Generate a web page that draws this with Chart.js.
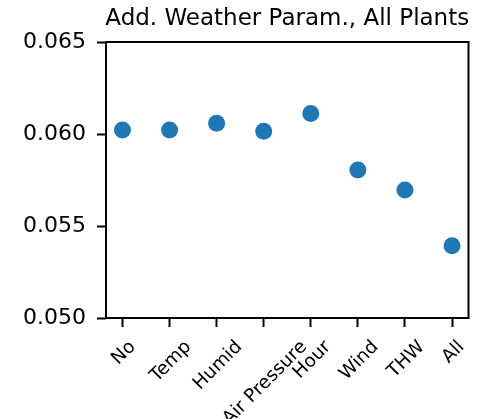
<!DOCTYPE html>
<html>
<head>
<meta charset="utf-8">
<script src="https://cdn.jsdelivr.net/npm/chart.js@4/dist/chart.umd.min.js"></script>
<style>
  html, body { margin: 0; padding: 0; background: #fff; }
  #wrap { width: 477px; height: 419px; position: relative; }
</style>
</head>
<body>
<div id="wrap"><canvas id="c"></canvas></div>
<script>
const categories = ["No", "Temp", "Humid", "Air Pressure", "Hour", "Wind", "THW", "All"];
const values = [0.06022, 0.06022, 0.06058, 0.06015, 0.06112, 0.05804, 0.05696, 0.05393];
const yTicks = [0.050, 0.055, 0.060, 0.065];
const titleText = "Add. Weather Param., All Plants";

const FONT = "'DejaVu Sans', sans-serif";

// frame, title and rotated category labels (matplotlib style, centred under each tick)
const decor = {
  id: "decor",
  afterDraw(chart) {
    const ctx = chart.ctx;
    const a = chart.chartArea;
    ctx.save();
    ctx.strokeStyle = "#000";
    ctx.lineWidth = 2;
    ctx.strokeRect(a.left, a.top, a.right - a.left, a.bottom - a.top);

    ctx.fillStyle = "#000";
    ctx.font = "23px " + FONT;
    ctx.textAlign = "center";
    ctx.textBaseline = "alphabetic";
    ctx.fillText(titleText, (a.left + a.right) / 2, 25);

    const xs = chart.scales.x;
    const fs = 18.5;
    ctx.font = fs + "px " + FONT;
    const cap = fs * 0.73;
    const top = 338;
    categories.forEach((lab, i) => {
      const w = ctx.measureText(lab).width;
      const H = (w + cap) / Math.SQRT2;
      const cx = xs.getPixelForValue(i);
      const cy = top + H / 2;
      ctx.save();
      ctx.translate(cx, cy);
      ctx.rotate(-Math.PI / 4);
      ctx.textAlign = "center";
      ctx.textBaseline = "alphabetic";
      ctx.fillText(lab, 0, cap / 2);
      ctx.restore();
    });
    ctx.restore();
  }
};

new Chart(document.getElementById("c"), {
  type: "scatter",
  data: {
    datasets: [{
      data: values.map((v, i) => ({ x: i, y: v })),
      backgroundColor: "#1f77b4",
      borderWidth: 0,
      pointRadius: 8.5,
      pointHoverRadius: 8.5
    }]
  },
  options: {
    responsive: true,
    maintainAspectRatio: false,
    animation: false,
    layout: { padding: { top: 42, right: 7, left: 0, bottom: 0 } },
    plugins: { legend: { display: false }, tooltip: { enabled: false } },
    scales: {
      x: {
        type: "linear",
        min: -0.35,
        max: 7.35,
        afterBuildTicks: (s) => { s.ticks = categories.map((_, i) => ({ value: i })); },
        afterFit: (s) => { s.height = 101; },
        ticks: { display: false },
        grid: { display: true, drawOnChartArea: false, drawTicks: true, tickLength: 9, tickWidth: 2, tickColor: "#000" },
        border: { display: false }
      },
      y: {
        min: 0.050,
        max: 0.065,
        afterBuildTicks: (s) => { s.ticks = yTicks.map(v => ({ value: v })); },
        afterFit: (s) => { s.width = 106; },
        ticks: {
          color: "#000",
          padding: 11,
          font: { family: FONT, size: 22 },
          callback: (v) => Number(v).toFixed(3)
        },
        grid: { display: true, drawOnChartArea: false, drawTicks: true, tickLength: 9, tickWidth: 2, tickColor: "#000" },
        border: { display: false }
      }
    }
  },
  plugins: [decor]
});
</script>
</body>
</html>
